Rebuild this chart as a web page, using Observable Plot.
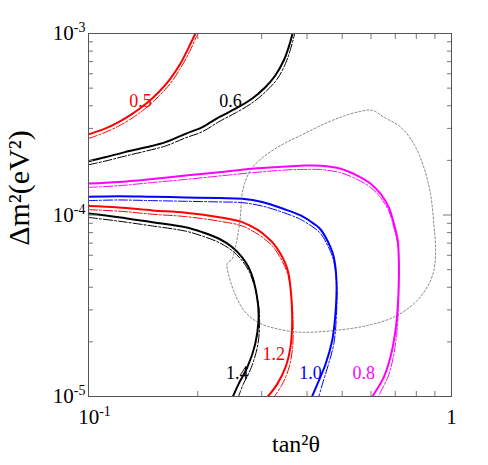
<!DOCTYPE html>
<html><head><meta charset="utf-8">
<script src="https://cdn.jsdelivr.net/npm/d3@7"></script>
<script src="https://cdn.jsdelivr.net/npm/@observablehq/plot@0.6"></script>
<style>body{margin:0;background:#fff}svg{display:block}svg,svg text{font-family:"Liberation Serif","Times New Roman",serif !important}</style>
</head><body><div id="chart"></div>
<script>
// contour data: [tan^2 theta, delta m^2 (eV^2)]
const c05 = [[0.100,2.78e-4],[0.111,2.99e-4],[0.121,3.25e-4],[0.132,3.61e-4],[0.144,4.10e-4],[0.156,4.75e-4],[0.168,5.63e-4],[0.179,6.81e-4],[0.189,8.41e-4],[0.197,1.0e-3]];
const c05d = [[0.100,2.64e-4],[0.111,2.85e-4],[0.121,3.09e-4],[0.132,3.42e-4],[0.144,3.89e-4],[0.156,4.50e-4],[0.168,5.30e-4],[0.179,6.41e-4],[0.190,7.96e-4],[0.200,1.0e-3]];
const c06 = [[0.100,1.98e-4],[0.111,2.08e-4],[0.126,2.22e-4],[0.144,2.36e-4],[0.163,2.52e-4],[0.185,2.80e-4],[0.206,3.05e-4],[0.229,3.46e-4],[0.254,3.85e-4],[0.282,4.37e-4],[0.307,5.06e-4],[0.327,5.87e-4],[0.345,7.10e-4],[0.356,8.41e-4],[0.365,1.0e-3]];
const c06d = [[0.100,1.89e-4],[0.111,1.98e-4],[0.126,2.11e-4],[0.144,2.25e-4],[0.163,2.40e-4],[0.185,2.66e-4],[0.206,2.88e-4],[0.229,3.27e-4],[0.254,3.65e-4],[0.282,4.14e-4],[0.309,4.82e-4],[0.331,5.61e-4],[0.349,6.84e-4],[0.360,8.16e-4],[0.370,1.0e-3]];
const c08 = [[0.100,1.49e-4],[0.121,1.52e-4],[0.150,1.58e-4],[0.185,1.65e-4],[0.229,1.72e-4],[0.282,1.80e-4],[0.349,1.85e-4],[0.384,1.87e-4],[0.436,1.87e-4],[0.495,1.80e-4],[0.550,1.65e-4],[0.598,1.49e-4],[0.637,1.31e-4],[0.672,1.10e-4],[0.694,8.94e-5],[0.711,7.24e-5],[0.716,5.61e-5],[0.716,4.36e-5],[0.711,3.10e-5],[0.701,2.31e-5],[0.679,1.65e-5],[0.651,1.28e-5],[0.611,1.03e-5],[0.605,1.0e-5]];
const c08d = [[0.100,1.42e-4],[0.121,1.45e-4],[0.150,1.51e-4],[0.185,1.57e-4],[0.229,1.64e-4],[0.282,1.71e-4],[0.349,1.77e-4],[0.384,1.78e-4],[0.436,1.78e-4],[0.495,1.71e-4],[0.550,1.57e-4],[0.598,1.42e-4],[0.637,1.25e-4],[0.672,1.05e-4],[0.694,8.5e-5],[0.711,6.9e-5],[0.716,5.3e-5],[0.716,4.15e-5],[0.713,2.95e-5],[0.706,2.2e-5],[0.690,1.62e-5],[0.668,1.28e-5],[0.633,1.03e-5],[0.629,1.0e-5]];
const c10 = [[0.100,1.26e-4],[0.121,1.27e-4],[0.150,1.26e-4],[0.185,1.25e-4],[0.229,1.24e-4],[0.265,1.23e-4],[0.301,1.18e-4],[0.345,1.08e-4],[0.384,9.94e-5],[0.418,8.94e-5],[0.436,8.32e-5],[0.464,6.65e-5],[0.474,5.85e-5],[0.482,4.36e-5],[0.479,2.86e-5],[0.469,2.03e-5],[0.450,1.51e-5],[0.427,1.17e-5],[0.413,1.0e-5]];
const c10d = [[0.100,1.20e-4],[0.121,1.21e-4],[0.150,1.20e-4],[0.185,1.19e-4],[0.229,1.18e-4],[0.265,1.17e-4],[0.301,1.12e-4],[0.345,1.03e-4],[0.384,9.45e-5],[0.418,8.5e-5],[0.436,7.9e-5],[0.464,6.3e-5],[0.474,5.55e-5],[0.483,4.15e-5],[0.482,2.8e-5],[0.474,1.95e-5],[0.458,1.5e-5],[0.441,1.17e-5],[0.431,1.0e-5]];
const c12 = [[0.100,1.12e-4],[0.121,1.10e-4],[0.150,1.06e-4],[0.185,1.03e-4],[0.229,9.73e-5],[0.265,9.13e-5],[0.294,8.22e-5],[0.311,7.52e-5],[0.321,7.08e-5],[0.338,6.11e-5],[0.354,4.95e-5],[0.362,3.53e-5],[0.364,2.52e-5],[0.360,1.87e-5],[0.349,1.45e-5],[0.331,1.17e-5],[0.312,1.0e-5]];
const c12d = [[0.100,1.07e-4],[0.121,1.05e-4],[0.150,1.01e-4],[0.185,9.8e-5],[0.229,9.25e-5],[0.265,8.7e-5],[0.294,7.8e-5],[0.311,7.15e-5],[0.321,6.75e-5],[0.338,5.8e-5],[0.354,4.7e-5],[0.363,3.4e-5],[0.366,2.5e-5],[0.365,1.87e-5],[0.357,1.45e-5],[0.342,1.17e-5],[0.325,1.0e-5]];
const c14 = [[0.100,1.02e-4],[0.121,9.73e-5],[0.150,9.13e-5],[0.185,8.57e-5],[0.206,8.04e-5],[0.229,7.40e-5],[0.249,6.65e-5],[0.265,5.85e-5],[0.276,5.16e-5],[0.285,4.36e-5],[0.293,3.24e-5],[0.294,2.62e-5],[0.288,1.95e-5],[0.274,1.45e-5],[0.259,1.17e-5],[0.250,1.0e-5]];
const c14d = [[0.100,9.7e-5],[0.121,9.25e-5],[0.150,8.7e-5],[0.185,8.15e-5],[0.206,7.65e-5],[0.229,7.05e-5],[0.249,6.35e-5],[0.265,5.6e-5],[0.276,4.95e-5],[0.285,4.2e-5],[0.294,3.2e-5],[0.296,2.62e-5],[0.293,1.95e-5],[0.281,1.45e-5],[0.267,1.17e-5],[0.259,1.0e-5]];
const grayContour = [[0.265,1.31e-4],[0.271,1.55e-4],[0.283,1.83e-4],[0.311,2.17e-4],[0.345,2.47e-4],[0.384,2.74e-4],[0.436,3.11e-4],[0.495,3.46e-4],[0.550,3.69e-4],[0.605,3.77e-4],[0.651,3.46e-4],[0.724,3.05e-4],[0.787,2.47e-4],[0.839,1.83e-4],[0.875,1.31e-4],[0.894,8.94e-5],[0.904,6.37e-5],[0.894,4.95e-5],[0.857,4.00e-5],[0.787,3.24e-5],[0.694,2.74e-5],[0.586,2.46e-5],[0.474,2.31e-5],[0.384,2.26e-5],[0.331,2.36e-5],[0.292,2.57e-5],[0.268,2.98e-5],[0.251,3.84e-5],[0.243,4.74e-5],[0.241,5.38e-5],[0.249,5.74e-5],[0.251,6.11e-5],[0.254,6.65e-5],[0.259,8.22e-5],[0.262,9.73e-5]];

const contourColors = ["#ff0000","#000000","#ff00ff","#0000ff","#ff0000","#000000"];
const labelText = ["0.5","0.6","0.8","1.0","1.2","1.4"];
const labelX = [0.139,0.246,0.573,0.409,0.324,0.257];
const labelY = [4.24e-4,4.24e-4,1.34e-5,1.34e-5,1.70e-5,1.34e-5];

const xMajor = [0.1, 1];
const xMinor = [0.2,0.3,0.4,0.5,0.6,0.7,0.8,0.9];
const yMajor = [1e-5, 1e-4, 1e-3];
const yMinor = [2e-5,3e-5,4e-5,5e-5,6e-5,7e-5,8e-5,9e-5,2e-4,3e-4,4e-4,5e-4,6e-4,7e-4,8e-4,9e-4];
const xTickLabels = ["10^-1","1"];
const yTickLabels = ["10^-5","10^-4","10^-3"];
const xTitle = "tan²θ";
const yTitle = "Δm²(eV²)";

const solids = [c05,c06,c08,c10,c12,c14];
const dashes = [c05d,c06d,c08d,c10d,c12d,c14d];
const serif = "Liberation Serif";

const tickColor = "#777";
const marks = [];
solids.forEach((c,i) => marks.push(Plot.line(c, {stroke: contourColors[i], strokeWidth: 2, curve: "catmull-rom", clip: true})));
dashes.forEach((c,i) => marks.push(Plot.line(c, {stroke: contourColors[i], strokeWidth: 1, strokeDasharray: "9,2,2,2", curve: "catmull-rom", clip: true})));
marks.push(Plot.line(grayContour, {stroke: "#666", strokeWidth: 0.8, strokeDasharray: "2,2", curve: "catmull-rom-closed"}));
marks.push(Plot.text(labelText, {x: labelX, y: labelY, fill: contourColors, fontSize: 18, fontFamily: serif}));

// inward ticks on all four sides
for (const anchor of ["bottom","top"]) {
  marks.push(Plot.axisX(xMajor, {anchor, tickSize: -9, fill: "none", stroke: tickColor, label: null}));
  marks.push(Plot.axisX(xMinor, {anchor, tickSize: -5, fill: "none", stroke: tickColor, label: null}));
}
for (const anchor of ["left","right"]) {
  marks.push(Plot.axisY(yMajor, {anchor, tickSize: -9, fill: "none", stroke: tickColor, label: null}));
  marks.push(Plot.axisY(yMinor, {anchor, tickSize: -5, fill: "none", stroke: tickColor, label: null}));
}
marks.push(Plot.axisX(xMajor, {anchor: "bottom", tickSize: 0, tickPadding: 13, fontSize: 21, fontFamily: serif, label: null, tickFormat: d => xTickLabels[xMajor.indexOf(d)]}));
marks.push(Plot.axisY(yMajor, {anchor: "left", tickSize: 0, tickPadding: 3, fontSize: 21, fontFamily: serif, label: null, tickFormat: d => yTickLabels[yMajor.indexOf(d)]}));
marks.push(Plot.frame({stroke: "#555"}));
marks.push(Plot.text([xTitle], {frameAnchor: "bottom", textAnchor: "middle", lineAnchor: "middle", dx: 26, dy: 48, fontSize: 24, fontFamily: serif}));
marks.push(Plot.text([yTitle], {frameAnchor: "left", textAnchor: "middle", lineAnchor: "middle", dx: -69, dy: -27, rotate: -90, fontSize: 30, fontFamily: serif}));

const chart = Plot.plot({
  width: 488, height: 465,
  marginLeft: 88, marginRight: 37, marginTop: 33, marginBottom: 69,
  x: {type: "log", domain: [0.1, 1], axis: null},
  y: {type: "log", domain: [1e-5, 1e-3], axis: null},
  color: {type: "identity"},
  style: {fontFamily: serif, background: "white", color: "black"},
  marks
});
// superscripts for tick labels like 10^-3
const ns = "http://www.w3.org/2000/svg";
chart.querySelectorAll("text").forEach(t => {
  const m = t.textContent.match(/^(\d+)\^(.+)$/);
  if (!m) return;
  t.textContent = "";
  const a = document.createElementNS(ns, "tspan"); a.textContent = m[1];
  const b = document.createElementNS(ns, "tspan"); b.textContent = m[2];
  b.setAttribute("dy", "-8"); b.setAttribute("font-size", "14");
  t.append(a, b);
  if (t.closest('[aria-label="x-axis tick label"]')) t.setAttribute("dx", "6");
});
document.getElementById("chart").append(chart);
</script>
</body></html>
